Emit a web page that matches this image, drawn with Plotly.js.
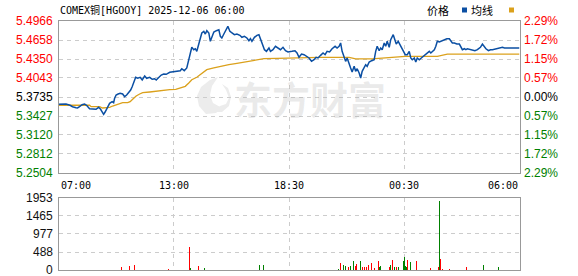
<!DOCTYPE html>
<html><head><meta charset="utf-8">
<script src="https://cdn.plot.ly/plotly-3.0.1.min.js"></script>
<style>html,body{margin:0;padding:0;background:#fff}#c{width:578px;height:276px}</style>
</head><body><div id="c"></div>
<script>
// ---- data ----
const titleText = 'COMEX铜[HGOOY] 2025-12-06 06:00';
const prevClose = 5.3735;
const priceTicks = [5.4966, 5.4658, 5.4350, 5.4043, 5.3735, 5.3427, 5.3120, 5.2812, 5.2504];
const priceTickText = ['5.4966','5.4658','5.4350','5.4043','5.3735','5.3427','5.3120','5.2812','5.2504'];
const pctTickText = ['2.29%','1.72%','1.15%','0.57%','0.00%','0.57%','1.15%','1.72%','2.29%'];
const timeLabels = ['07:00','13:00','18:30','00:30','06:00'];
const timeLabelIdx = [0, 115, 230, 345, 460];
const volTicks = [0, 488, 977, 1465, 1953];
const volTickText = ['0','488','977','1465','1953'];

const priceIdx = [
 0,4,7.5,11.5,14,17.5,19,21,23.5,26,28,31,34,37.5,40,42,44,45,46.5,49,51,53.5,55,56,57.5,59.5,61.5,64,66,68,70,72,73.5,75,77,79,81.5,83.5,86,88,91,93.5,96,97.5,100,102.5,105,107.5,111,114,117,
 121.5,123,125.5,128,130,131.5,133,135,136.5,138,140,141.5,143,145,146.5,148,150,151.5,153,155,157.5,160,161.5,163,165,166.5,169,171,173,175.5,178,181,183,185.5,188,190,191.5,193,195.5,198,200,201.5,203,205.5,207.5,210,211.5,214,216.5,219,221.5,224,226.5,229,231,
 233,236,238,240,242.5,245,247,250,252.5,255,257,259,261.5,264,266,268,270.5,273,276,278,280,281.5,283,285,286.5,288,290,291.5,293,295,296.5,298,300,301.5,303,305,306.5,308,310,312.5,315,316.5,318,320,321.5,323,325,326.5,328,330,331.5,334,336,337,339,341.5,343,345,346,
 348,350,351.5,353,355,356.5,358,360,362,364,366.5,368,370,371.5,373,375,376.5,378,380,381.5,383,385,387.5,390,391.5,393,395,397.5,400,401.5,403,405,406.5,408,411,413,415.5,418,421,423,425,426.5,429,431,433,436.5,440,443,445,448,451.5,455,458,460
];
const priceVal = [
 5.3617,5.3617,5.3622,5.3601,5.3578,5.3560,5.3557,5.3578,5.3610,5.3622,5.3601,5.3546,5.3536,5.3536,5.3568,5.3536,5.3481,5.3455,5.3492,5.3568,5.3633,5.3659,5.3643,5.3714,5.3767,5.3784,5.3795,5.3784,5.3740,5.3767,5.3805,5.3848,5.3902,5.3983,5.4054,5.4038,5.4054,5.4010,5.4075,5.4038,5.4054,5.4022,5.4031,5.4010,5.4054,5.4091,5.4108,5.4103,5.4135,5.4145,5.4145,
 5.4161,5.4193,5.4161,5.4205,5.4323,5.4420,5.4540,5.4501,5.4517,5.4475,5.4610,5.4718,5.4772,5.4799,5.4755,5.4809,5.4772,5.4637,5.4718,5.4788,5.4809,5.4825,5.4718,5.4691,5.4755,5.4799,5.4880,5.4799,5.4772,5.4744,5.4755,5.4734,5.4702,5.4718,5.4691,5.4647,5.4679,5.4637,5.4702,5.4734,5.4744,5.4679,5.4582,5.4501,5.4475,5.4529,5.4475,5.4501,5.4556,5.4529,5.4501,5.4540,5.4485,5.4464,5.4475,
 5.4475,5.4485,5.4448,5.4378,5.4431,5.4420,5.4394,5.4367,5.4313,5.4339,5.4378,5.4367,5.4410,5.4448,5.4420,5.4475,5.4464,5.4517,5.4556,5.4529,5.4556,5.4610,5.4475,5.4394,5.4313,5.4367,5.4258,5.4205,5.4140,5.4232,5.4151,5.4193,5.4124,5.4043,5.4151,5.4205,5.4258,5.4232,5.4302,5.4323,5.4339,5.4475,5.4556,5.4485,5.4529,5.4501,5.4610,5.4556,5.4637,5.4540,5.4663,5.4744,5.4637,5.4593,5.4637,5.4556,5.4501,5.4431,5.4420,
 5.4420,5.4475,5.4367,5.4339,5.4367,5.4302,5.4367,5.4339,5.4367,5.4394,5.4420,5.4448,5.4475,5.4448,5.4475,5.4501,5.4556,5.4637,5.4626,5.4637,5.4647,5.4663,5.4679,5.4679,5.4637,5.4610,5.4610,5.4593,5.4593,5.4556,5.4501,5.4517,5.4501,5.4517,5.4501,5.4501,5.4485,5.4501,5.4540,5.4593,5.4540,5.4517,5.4485,5.4501,5.4501,5.4517,5.4529,5.4540,5.4529,5.4529,5.4540,5.4529,5.4540,5.4529
];

const avgIdx = [0,31,32.5,41,44,49,51,54,59,64,69,71.5,74,77.5,81,84,91,97.5,104,111,117,121.5,126.5,130,133,138,141.5,145,148,155,161.5,170,178,188,198,205,218,231,240,260,290,293,296.5,313,316.5,326.5,336.5,346,378,380,388,460];
const avgVal = [5.3601,5.3601,5.3578,5.3578,5.3557,5.3557,5.3568,5.3589,5.3622,5.3643,5.3643,5.3659,5.3698,5.3751,5.3784,5.3805,5.3816,5.3832,5.3844,5.3853,5.3860,5.3881,5.3908,5.3962,5.4015,5.4054,5.4096,5.4140,5.4177,5.4205,5.4232,5.4258,5.4281,5.4313,5.4339,5.4355,5.4362,5.4367,5.4378,5.4378,5.4378,5.4367,5.4351,5.4351,5.4355,5.4362,5.4378,5.4394,5.4394,5.4404,5.4431,5.4431];

const volIdx = [63,71,76,110,131,132,140,146,201,205,224,240,279,281,284,286,289,291,294,296,297,301,303,305,307,309,312,315,319,320,321,330,331,333,335,337,339,344,345,346,347,348,351,357,371,379,380,381,383,390,407,424,439];
const volVal = [92,119,147,37,624,55,119,64,147,147,92,92,37,183,147,119,73,119,238,119,165,238,73,73,92,147,183,55,238,92,119,73,147,284,92,92,92,238,348,119,73,284,211,238,55,92,1861,303,37,37,73,147,92];
const volUp  = [1,1,1,1,1,0,1,0,0,0,0,0,0,1,0,0,1,0,0,1,1,0,1,1,1,1,1,1,1,0,0,1,0,1,0,1,0,0,0,0,0,1,0,1,1,1,0,1,1,1,1,0,0];

// ---- drawing ----
const W = 578, H = 276;
const px = x => x / W, py = y => 1 - y / H;
const RED = '#ff0000', GREEN = '#008000', BLACK = '#000000';
const gridStyle = {showgrid:true, gridcolor:'#cccccc', griddash:'4px,4px', gridwidth:1,
  showline:true, mirror:true, linecolor:'#999999', linewidth:1, zeroline:false,
  showticklabels:false, ticks:'', fixedrange:true};
const xDom = [px(58.5), px(519.5)];
const xr = [timeLabelIdx[0], timeLabelIdx[timeLabelIdx.length-1]];

const numFont = {family:'Liberation Sans, Arial, sans-serif', size:12};
const monoFont = {family:'DejaVu Sans Mono, Noto Sans CJK SC, monospace', size:10, color:'#000'};
const ann = [];
priceTicks.forEach((v,i)=>{
  const c = Math.abs(v-prevClose)<1e-6 ? BLACK : (v>prevClose ? RED : GREEN);
  ann.push({xref:'paper', yref:'y', x:px(55), y:v, xanchor:'right', yanchor:'middle', text:priceTickText[i], showarrow:false, font:Object.assign({color:c}, numFont)});
  ann.push({xref:'paper', yref:'y', x:px(522), y:v, xanchor:'left', yanchor:'middle', text:pctTickText[i], showarrow:false, font:Object.assign({color:c}, numFont)});
});
volTicks.forEach((v,i)=>{
  ann.push({xref:'paper', yref:'y2', x:px(55), y:v, xanchor:'right', yanchor:'middle', text:volTickText[i], showarrow:false, font:Object.assign({color:'#111'}, numFont)});
});
timeLabels.forEach((t,i)=>{
  const last = i===timeLabels.length-1;
  ann.push({xref:'x', yref:'paper', x:timeLabelIdx[i], y:py(185), xanchor: i===0?'left':(last?'right':'center'), yanchor:'middle', text:t, showarrow:false, font:monoFont});
});
ann.push({xref:'paper', yref:'paper', x:px(58), y:py(10), xanchor:'left', yanchor:'middle', text:titleText, showarrow:false, font:monoFont});
const legFont = {family:'Noto Sans CJK SC, sans-serif', size:11, color:'#000'};
ann.push({xref:'paper', yref:'paper', x:px(451), y:py(10), xanchor:'right', yanchor:'middle', text:'价格', showarrow:false, font:legFont});
ann.push({xref:'paper', yref:'paper', x:px(495), y:py(10), xanchor:'right', yanchor:'middle', text:'均线', showarrow:false, font:legFont});
// watermark
ann.push({xref:'paper', yref:'paper', x:px(232), y:py(97), xanchor:'left', yanchor:'middle', text:'<b>东方财富</b>', showarrow:false,
  font:{family:'Noto Sans CJK SC, sans-serif', size:38, color:'rgba(160,160,160,0.22)'}});

const P = (pts)=> 'M' + pts.map(p=>px(p[0]).toFixed(4)+','+py(p[1]).toFixed(4)).join(' L') + ' Z';
const shapes = [
  {type:'rect', xref:'paper', yref:'paper', x0:px(462), x1:px(467), y0:py(12.5), y1:py(7.5), fillcolor:'#0b4fa3', line:{width:0}},
  {type:'rect', xref:'paper', yref:'paper', x0:px(509), x1:px(514), y0:py(12.5), y1:py(7.5), fillcolor:'#dba11c', line:{width:0}},
  {type:'path', xref:'paper', yref:'paper', layer:'below', path:P([[206,114],[199,106],[197,96],[201,87],[210,80],[218,77],[212,86],[210,95],[213,103],[222,108],[216,113]]), fillcolor:'#ececec', line:{width:0}},
  {type:'path', xref:'paper', yref:'paper', layer:'below', path:P([[214,112],[220,106],[226,104],[229,98],[226,90],[222,84],[228,88],[231,97],[229,106],[222,112]]), fillcolor:'#ececec', line:{width:0}}
];

const traces = [
  {type:'bar', x:volIdx, y:volVal, width:0.9, marker:{color:volUp.map(u=>u?RED:GREEN), line:{width:0}}, xaxis:'x2', yaxis:'y2', hoverinfo:'skip'},
  {type:'scatter', mode:'lines', x:avgIdx, y:avgVal, line:{color:'#dba11c', width:1.3}, xaxis:'x', yaxis:'y', hoverinfo:'skip'},
  {type:'scatter', mode:'lines', x:priceIdx, y:priceVal, line:{color:'#0b4fa3', width:1.5}, xaxis:'x', yaxis:'y', hoverinfo:'skip'}
];

const layout = {
  width:W, height:H, margin:{l:0,r:0,t:0,b:0}, showlegend:false,
  paper_bgcolor:'#ffffff', plot_bgcolor:'#ffffff', bargap:0,
  xaxis: Object.assign({domain:xDom, range:xr, tickvals:timeLabelIdx, anchor:'y'}, gridStyle),
  yaxis: Object.assign({domain:[py(173), py(21)], range:[priceTicks[priceTicks.length-1], priceTicks[0]], tickvals:priceTicks, anchor:'x'}, gridStyle),
  xaxis2: Object.assign({domain:xDom, range:xr, tickvals:timeLabelIdx, anchor:'y2'}, gridStyle),
  yaxis2: Object.assign({domain:[py(270), py(198)], range:[volTicks[0], volTicks[volTicks.length-1]], tickvals:volTicks, anchor:'x2'}, gridStyle),
  annotations: ann, shapes: shapes
};
Plotly.newPlot('c', traces, layout, {staticPlot:true, displayModeBar:false});
</script></body></html>
